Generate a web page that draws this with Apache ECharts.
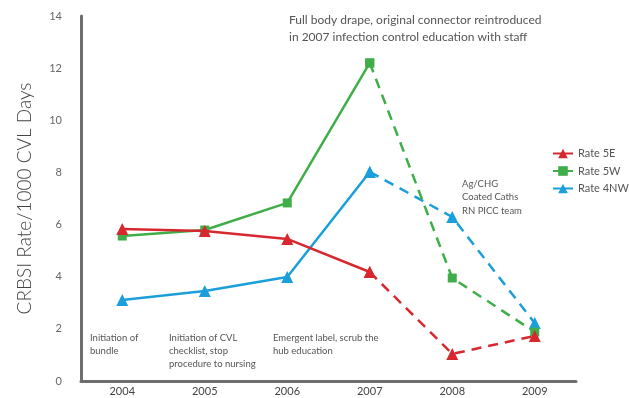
<!DOCTYPE html>
<html><head><meta charset="utf-8">
<script src="https://cdn.jsdelivr.net/npm/echarts@6/dist/echarts.min.js"></script>
<style>html,body{margin:0;padding:0;background:#fff}#c{width:629px;height:398px}</style>
</head><body><div id="c"></div>
<script>
const years = ['2004','2005','2006','2007','2008','2009'];
const rate5E  = [5.83, 5.75, 5.45, 4.18, 1.04, 1.73];
const rate5W  = [5.56, 5.79, 6.83, 12.2, 3.95, 1.88];
const rate4NW = [3.11, 3.45, 3.99, 8.02, 6.29, 2.22];
const yTicks = [0, 2, 4, 6, 8, 10, 12, 14];
const seriesNames = ['Rate 5E', 'Rate 5W', 'Rate 4NW'];
const colors = ['#d7282f', '#3fae49', '#1b9fdb'];
const symbols = ['triangle', 'rect', 'triangle'];
const notes = [
  {text: 'Full body drape, original connector reintroduced\nin 2007 infection control education with staff', x: 289, y: 12, size: 12, lh: 17},
  {text: 'Ag/CHG\nCoated Caths\nRN PICC team', x: 462, y: 177, size: 9.5, lh: 13.5},
  {text: 'Initiation of\nbundle', x: 90, y: 331, size: 9.5, lh: 13},
  {text: 'Initiation of CVL\nchecklist, stop\nprocedure to nursing', x: 169, y: 331, size: 9.5, lh: 13},
  {text: 'Emergent label, scrub the\nhub education', x: 273, y: 331, size: 9.5, lh: 13}
];
const all = [rate5E, rate5W, rate4NW];
const splitIdx = 3;
const series = [];
all.forEach((vals, i) => {
  const solid = vals.map((v, k) => k <= splitIdx ? v : null);
  const dashed = vals.map((v, k) => k >= splitIdx ? v : null);
  const base = {
    name: seriesNames[i], type: 'line', symbol: symbols[i],
    symbolSize: symbols[i] === 'rect' ? 9 : 12,
    itemStyle: {color: colors[i]}, connectNulls: false, z: 3 - i
  };
  series.push(Object.assign({}, base, {data: solid, lineStyle: {color: colors[i], width: 2.5, type: 'solid'}}));
  series.push(Object.assign({}, base, {data: dashed, lineStyle: {color: colors[i], width: 2.5, type: [10, 7]}}));
});
const chart = echarts.init(document.getElementById('c'));
chart.setOption({
  animation: false,
  backgroundColor: '#fff',
  grid: {left: 81, right: 53, top: 16, bottom: 17},
  legend: {
    data: seriesNames, orient: 'vertical', left: 552, top: 148, padding: 0,
    itemWidth: 20, itemHeight: 12, itemGap: 6.5,
    textStyle: {fontFamily: 'Lato', fontSize: 11, color: '#555'}
  },
  xAxis: {
    type: 'category', data: years, boundaryGap: true,
    axisLine: {lineStyle: {color: '#6e6e6e', width: 3}},
    axisTick: {show: false},
    axisLabel: {fontFamily: 'Lato', fontSize: 11, color: '#444', margin: 5}
  },
  yAxis: {
    type: 'value', min: yTicks[0], max: yTicks[yTicks.length - 1], interval: 2,
    name: 'CRBSI Rate/1000 CVL Days', nameLocation: 'middle', nameGap: 47, nameRotate: 90,
    nameTextStyle: {fontFamily: 'Lato', fontSize: 19, fontWeight: 300, color: '#444'},
    axisLine: {show: true, lineStyle: {color: '#6e6e6e', width: 3}},
    axisTick: {show: false},
    splitLine: {show: false},
    axisLabel: {fontFamily: 'Lato', fontSize: 11, color: '#666', margin: 19}
  },
  graphic: notes.map(n => ({
    type: 'text', left: n.x, top: n.y,
    style: {text: n.text, font: n.size + 'px Lato', fill: '#555', lineHeight: n.lh}
  })),
  series: series
});
</script></body></html>
